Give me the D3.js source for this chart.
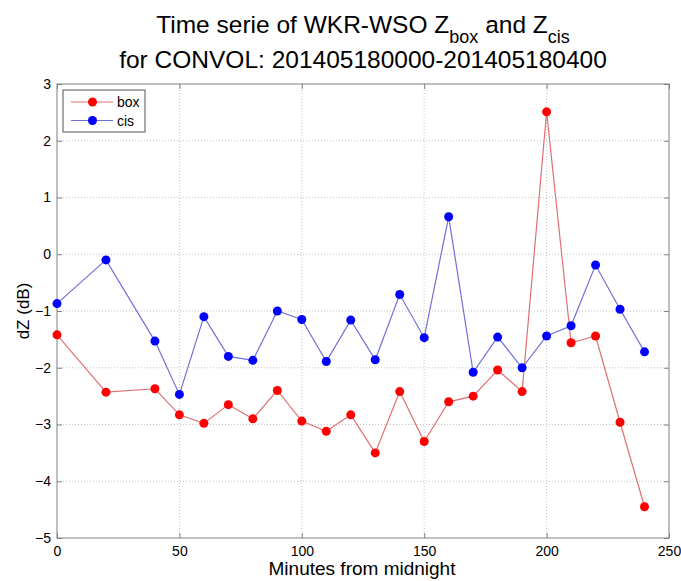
<!DOCTYPE html>
<html>
<head>
<meta charset="utf-8">
<title>Time serie of WKR-WSO Zbox and Zcis</title>
<script src="https://d3js.org/d3.v7.min.js"></script>
<style>
  body { margin: 0; background: #fff; }
  text { font-family: "Liberation Sans", Arial, Helvetica, sans-serif; fill: #000; }
</style>
</head>
<body>
<div id="output"></div>
<script>

var minutes = [0, 20, 40, 50, 60, 70, 80, 90, 100, 110, 120, 130, 140, 150, 160, 170, 180, 190, 200, 210, 220, 230, 240];
var boxValues = [-1.42, -2.43, -2.37, -2.83, -2.98, -2.65, -2.9, -2.4, -2.94, -3.12, -2.83, -3.5, -2.42, -3.3, -2.6, -2.5, -2.04, -2.42, 2.51, -1.56, -1.44, -2.96, -4.45];
var cisValues = [-0.87, -0.1, -1.53, -2.47, -1.1, -1.8, -1.87, -1.0, -1.15, -1.89, -1.16, -1.86, -0.71, -1.47, 0.66, -2.08, -1.46, -2.0, -1.44, -1.26, -0.19, -0.97, -1.72];
var xTicks = [0, 50, 100, 150, 200, 250];
var yTicks = [-5, -4, -3, -2, -1, 0, 1, 2, 3];

var w = 681, h = 581;
var margin = {top: 84, right: 12, bottom: 43, left: 57};
var wChart = w - margin.left - margin.right;
var hChart = h - margin.top - margin.bottom;

var x = d3.scaleLinear().domain([0, 250]).range([0, wChart]);
var y = d3.scaleLinear().domain([-5, 3]).range([hChart, 0]);

var svg = d3.select("#output").append("svg")
    .attr("width", w)
    .attr("height", h);

var chart = svg.append("g")
    .attr("transform", "translate(" + margin.left + "," + margin.top + ")");

// dotted grid
chart.selectAll(".gx").data(xTicks.slice(1, -1)).enter().append("line")
    .attr("x1", function(d){ return x(d); }).attr("x2", function(d){ return x(d); })
    .attr("y1", 0).attr("y2", hChart)
    .attr("stroke", "#c4c4c4").attr("stroke-dasharray", "1,2");
chart.selectAll(".gy").data(yTicks.slice(1, -1)).enter().append("line")
    .attr("y1", function(d){ return y(d); }).attr("y2", function(d){ return y(d); })
    .attr("x1", 0).attr("x2", wChart)
    .attr("stroke", "#c4c4c4").attr("stroke-dasharray", "1,2");

// axes, ticks inside on all four sides
function styleAxis(g) {
    g.select(".domain").remove();
    g.selectAll(".tick line").attr("stroke", "#808080");
    g.selectAll(".tick text").style("font-size", "14px").attr("fill", "#1a1a1a");
}
chart.append("g").attr("transform", "translate(0," + hChart + ")")
    .call(d3.axisBottom(x).tickValues(xTicks).tickSizeInner(-5).tickPadding(8).tickFormat(d3.format("d")))
    .call(styleAxis);
chart.append("g")
    .call(d3.axisLeft(y).tickValues(yTicks).tickSizeInner(-5).tickPadding(6).tickFormat(d3.format("d")))
    .call(styleAxis);
chart.append("g")
    .call(d3.axisTop(x).tickValues(xTicks).tickSizeInner(-5).tickFormat(""))
    .call(styleAxis);
chart.append("g").attr("transform", "translate(" + wChart + ",0)")
    .call(d3.axisRight(y).tickValues(yTicks).tickSizeInner(-5).tickFormat(""))
    .call(styleAxis);

chart.append("rect")
    .attr("width", wChart).attr("height", hChart)
    .attr("fill", "none").attr("stroke", "#808080");

// series
var series = [
    {name: "box", values: boxValues, line: "#e07070", dot: "#ff0000"},
    {name: "cis", values: cisValues, line: "#7070d8", dot: "#0000ff"}
];

var line = d3.line()
    .x(function(d){ return x(d[0]); })
    .y(function(d){ return y(d[1]); });

series.forEach(function(s) {
    var pts = minutes.map(function(m, i){ return [m, s.values[i]]; });
    chart.append("path")
        .attr("d", line(pts))
        .attr("fill", "none")
        .attr("stroke", s.line)
        .attr("stroke-width", 1.2);
    chart.selectAll(".dot-" + s.name).data(pts).enter().append("circle")
        .attr("cx", function(d){ return x(d[0]); })
        .attr("cy", function(d){ return y(d[1]); })
        .attr("r", 4.5)
        .attr("fill", s.dot);
});

// legend
var legend = chart.append("g").attr("transform", "translate(6,6)");
legend.append("rect")
    .attr("width", 82).attr("height", 42)
    .attr("fill", "#fff").attr("stroke", "#555");
series.forEach(function(s, i) {
    var ly = 12 + i * 18.5;
    legend.append("line").attr("x1", 8).attr("x2", 50).attr("y1", ly).attr("y2", ly)
        .attr("stroke", s.line).attr("stroke-width", 1.2);
    legend.append("circle").attr("cx", 29.5).attr("cy", ly).attr("r", 4.5).attr("fill", s.dot);
    legend.append("text").attr("x", 54).attr("y", ly + 5).style("font-size", "14px").text(s.name);
});

// labels
svg.append("text")
    .attr("x", 362).attr("y", 575)
    .attr("text-anchor", "middle").style("font-size", "19px")
    .text("Minutes from midnight");
svg.append("text")
    .attr("transform", "translate(29," + (margin.top + hChart / 2) + ") rotate(-90)")
    .attr("text-anchor", "middle").style("font-size", "17px")
    .text("dZ (dB)");

var title = svg.append("text")
    .attr("x", margin.left + wChart / 2).attr("y", 33)
    .attr("text-anchor", "middle").style("font-size", "24.5px");
title.append("tspan").text("Time serie of WKR-WSO Z");
title.append("tspan").attr("dy", 10).style("font-size", "18px").text("box");
title.append("tspan").attr("dy", -10).text(" and Z");
title.append("tspan").attr("dy", 10).style("font-size", "18px").text("cis");
svg.append("text")
    .attr("x", margin.left + wChart / 2).attr("y", 68)
    .attr("text-anchor", "middle").style("font-size", "24.5px")
    .text("for CONVOL: 201405180000-201405180400");

</script>
</body>
</html>
